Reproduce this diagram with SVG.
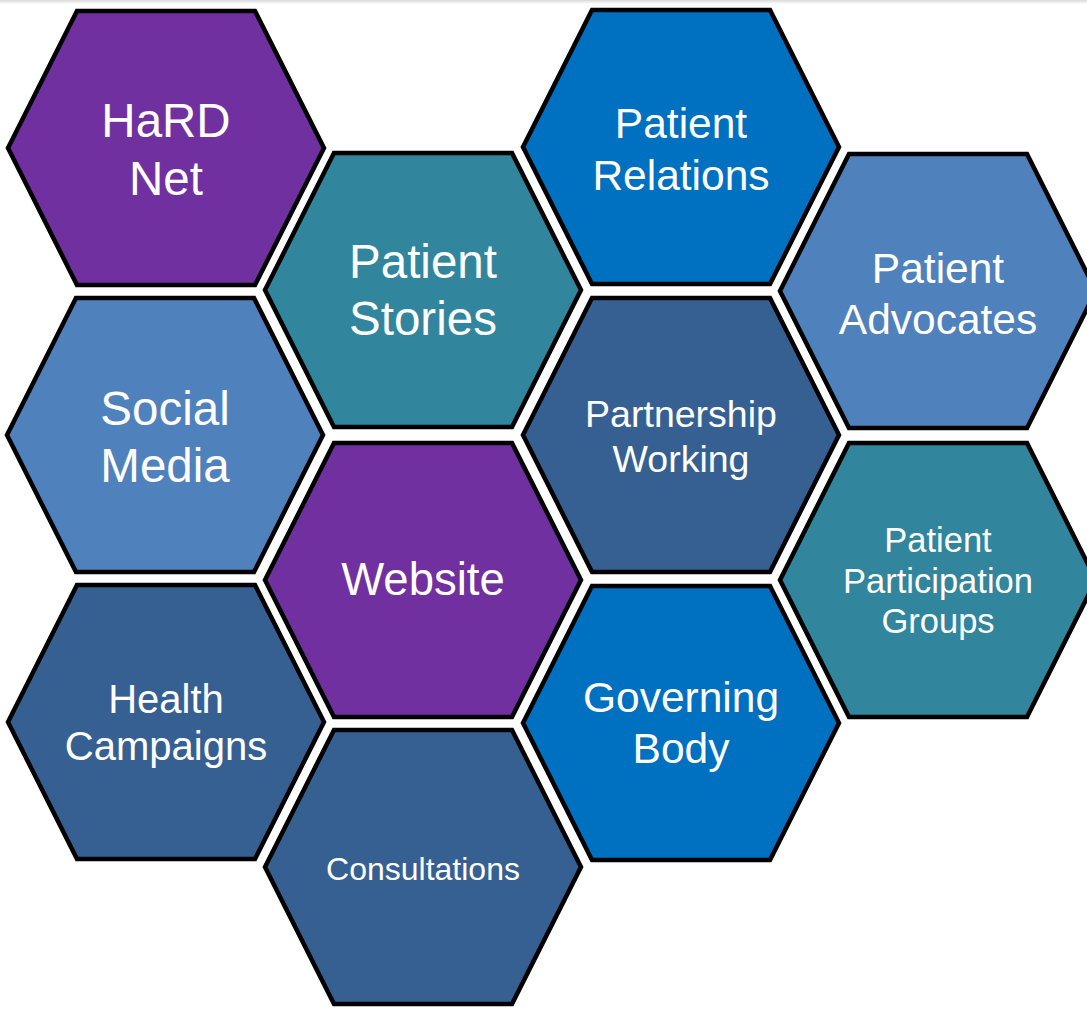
<svg xmlns="http://www.w3.org/2000/svg" width="1087" height="1009" viewBox="0 0 1087 1009">
  <style>
    .hex { stroke: #000000; stroke-width: 4.5; stroke-linejoin: miter; }
    .purple { fill: #7030A0; }
    .teal { fill: #31859C; }
    .blue { fill: #0070C0; }
    .light { fill: #4F81BD; }
    .dark { fill: #376092; }
    text { font-family: "Liberation Sans", Arial, sans-serif; fill: #FFFFFF; text-anchor: middle; }
  </style>
  <defs>
    <polygon id="h" points="-158,0 -89,-137 89,-137 158,0 89,137 -89,137"/>
    <linearGradient id="topshade" x1="0" y1="0" x2="0" y2="1">
      <stop offset="0" stop-color="#d8d8d8"/>
      <stop offset="1" stop-color="#ffffff"/>
    </linearGradient>
  </defs>
  <rect x="0" y="0" width="1087" height="1009" fill="#FFFFFF"/>
  <rect x="0" y="0" width="1087" height="4" fill="url(#topshade)"/>
  <g id="connectors"></g>

  <g id="hard-net" transform="translate(166,148)">
    <use href="#h" class="hex purple"/>
    <text font-size="47.5" y="-11">HaRD</text>
    <text font-size="47.5" y="47">Net</text>
  </g>
  <g id="patient-stories" transform="translate(423,290)">
    <use href="#h" class="hex teal"/>
    <text font-size="47.5" y="-12">Patient</text>
    <text font-size="47.5" y="45">Stories</text>
  </g>
  <g id="social-media" transform="translate(165,435)">
    <use href="#h" class="hex light"/>
    <text font-size="47.5" y="-10">Social</text>
    <text font-size="47.5" y="47">Media</text>
  </g>
  <g id="website" transform="translate(423,580)">
    <use href="#h" class="hex purple"/>
    <text font-size="45.5" y="15">Website</text>
  </g>
  <g id="health-campaigns" transform="translate(166,722)">
    <use href="#h" class="hex dark"/>
    <text font-size="40" y="-9">Health</text>
    <text font-size="40" y="38">Campaigns</text>
  </g>
  <g id="consultations" transform="translate(423,867)">
    <use href="#h" class="hex dark"/>
    <text font-size="32" y="13">Consultations</text>
  </g>
  <g id="patient-relations" transform="translate(681,147)">
    <use href="#h" class="hex blue"/>
    <text font-size="42.5" y="-9">Patient</text>
    <text font-size="42.5" y="43">Relations</text>
  </g>
  <g id="partnership-working" transform="translate(681,435)">
    <use href="#h" class="hex dark"/>
    <text font-size="37.5" y="-8">Partnership</text>
    <text font-size="37.5" y="37">Working</text>
  </g>
  <g id="governing-body" transform="translate(681,723)">
    <use href="#h" class="hex blue"/>
    <text font-size="42.5" y="-11">Governing</text>
    <text font-size="42.5" y="40">Body</text>
  </g>
  <g id="patient-advocates" transform="translate(938,291)">
    <use href="#h" class="hex light"/>
    <text font-size="42.5" y="-8">Patient</text>
    <text font-size="42.5" y="43">Advocates</text>
  </g>
  <g id="patient-participation-groups" transform="translate(938,580)">
    <use href="#h" class="hex teal"/>
    <text font-size="34.5" y="-28">Patient</text>
    <text font-size="34.5" y="13">Participation</text>
    <text font-size="34.5" y="53">Groups</text>
  </g>
</svg>
